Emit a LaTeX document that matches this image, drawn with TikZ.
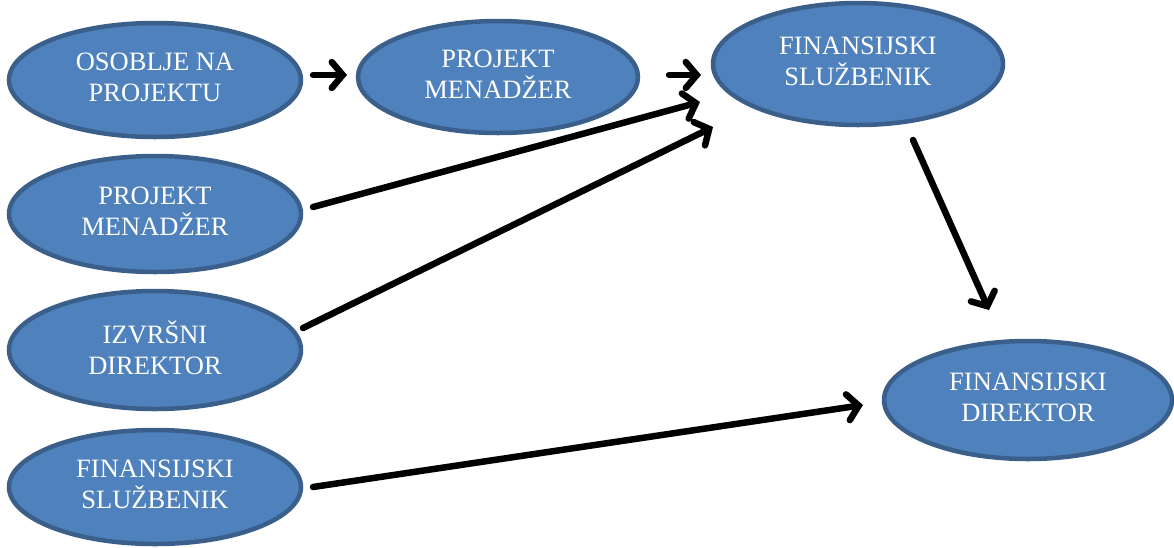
\documentclass[tikz,border=0pt]{standalone}
\usepackage{fontspec}
\setmainfont{Liberation Serif}
\usetikzlibrary{arrows.meta,shapes.geometric}
\definecolor{efill}{HTML}{4F81BD}
\definecolor{edraw}{HTML}{3A5F8B}
\tikzset{
  oval/.style={ellipse, fill=efill, draw=edraw, line width=4.5pt, text=white,
    align=center, inner sep=0pt, font=\fontsize{26.5}{31}\selectfont},
  conn/.style={line width=6.5pt, line cap=round, -{Straight Barb[length=11pt,width=26pt,line cap=round]}}
}
\begin{document}
\begin{tikzpicture}[x=1pt,y=-1pt]
\useasboundingbox (0,0) rectangle (1174,547);
\node[oval, minimum width=292pt, minimum height=114pt] (osob) at (155,80) {OSOBLJE NA\\PROJEKTU\vphantom{g}};
\node[oval, minimum width=280pt, minimum height=112pt] (pm1) at (498,77) {PROJEKT\\MENADŽER\vphantom{g}};
\node[oval, minimum width=290pt, minimum height=122pt] (fs1) at (858,64) {FINANSIJSKI\\SLUŽBENIK\vphantom{g}};
\node[oval, minimum width=292pt, minimum height=116pt] (pm2) at (155,214) {PROJEKT\\MENADŽER\vphantom{g}};
\node[oval, minimum width=292pt, minimum height=118pt] (izv) at (155,350) {IZVRŠNI\\DIREKTOR\vphantom{g}};
\node[oval, minimum width=292pt, minimum height=114pt] (fs2) at (155,487) {FINANSIJSKI\\SLUŽBENIK\vphantom{g}};
\node[oval, minimum width=288pt, minimum height=118pt] (fd) at (1028,400) {FINANSIJSKI\\DIREKTOR\vphantom{g}};
\coordinate (a1) at (313,75); \coordinate (a2) at (347,75);
\coordinate (b1) at (669,75); \coordinate (b2) at (701,75);
\coordinate (c1) at (313,207); \coordinate (c2) at (700,102);
\coordinate (d1) at (303,328); \coordinate (d2) at (713,127);
\coordinate (e1) at (913,140); \coordinate (e2) at (989,310);
\coordinate (f1) at (313,487); \coordinate (f2) at (863,405);
\draw[conn] (a1) -- (a2);
\draw[conn] (b1) -- (b2);
\draw[conn] (c1) -- (c2);
\draw[conn] (d1) -- (d2);
\draw[conn] (e1) -- (e2);
\draw[conn] (f1) -- (f2);
\end{tikzpicture}
\end{document}
